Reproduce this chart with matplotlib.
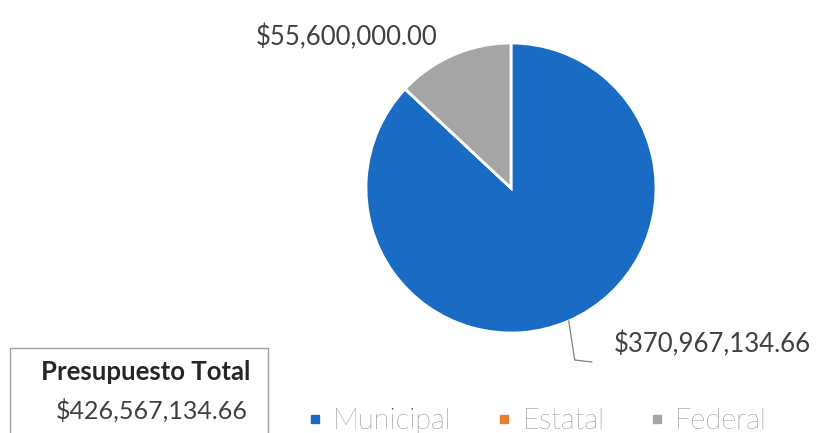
import numpy as np
import matplotlib.pyplot as plt
from matplotlib.patches import Rectangle
from matplotlib.lines import Line2D

# data
categories = ['Municipal', 'Estatal', 'Federal']
amounts = [370967134.66, 0.0, 55600000.00]
colors = ['#1a6bc4', '#ed7d31', '#a5a5a5']
total_title = 'Presupuesto Total'

plt.rcParams['font.family'] = ['Lato', 'DejaVu Sans']

fig = plt.figure(figsize=(8.2, 4.33), dpi=100)
ax = fig.add_axes([0, 0, 1, 1])

center = (511, 245)
radius = 145
wedges, _ = ax.pie(amounts, colors=colors, startangle=90, counterclock=False,
                   center=center, radius=radius,
                   wedgeprops=dict(edgecolor='white', linewidth=2))
ax.set_xlim(0, 820)
ax.set_ylim(0, 433)
ax.set_aspect('equal')
ax.axis('off')


def money(v):
    return '${:,.2f}'.format(v)


def edge_point(w):
    ang = np.deg2rad((w.theta1 + w.theta2) / 2)
    return center[0] + radius * np.cos(ang), center[1] + radius * np.sin(ang)


# Municipal label with leader line
mx, my = edge_point(wedges[0])
ax.plot([mx, mx + 6, mx + 23], [my, my - 39, my - 41], color='#7f7f7f', lw=0.9)
ax.text(mx + 45, my - 23, money(amounts[0]), fontsize=18.5, color='#404040',
        va='center', ha='left')

# Federal label
fx, fy = edge_point(wedges[2])
ax.text(fx - 107, fy + 18, money(amounts[2]), fontsize=18.5, color='#404040',
        va='center', ha='center')

# total box
ax.add_patch(Rectangle((10, -5), 258, 90, facecolor='white', edgecolor='#a0a0a0', lw=1))
ax.text(146, 61, total_title, fontsize=18.5, fontweight='bold', color='#262626',
        ha='center', va='center')
ax.text(152, 23, money(sum(amounts)), fontsize=18, color='#404040',
        ha='center', va='center')

handles = [Line2D([], [], marker='s', linestyle='', markersize=6, color=c) for c in colors]
leg = ax.legend(handles, categories, loc='center left', bbox_to_anchor=(306 / 820, 12 / 433),
                ncol=3, frameon=False, fontsize=21, handletextpad=0.32,
                columnspacing=1.5, handlelength=0.6, borderpad=0, borderaxespad=0)
for t in leg.get_texts():
    t.set_color('#404040')
    t.set_fontweight('light')

fig.savefig('out.png', dpi=100)
